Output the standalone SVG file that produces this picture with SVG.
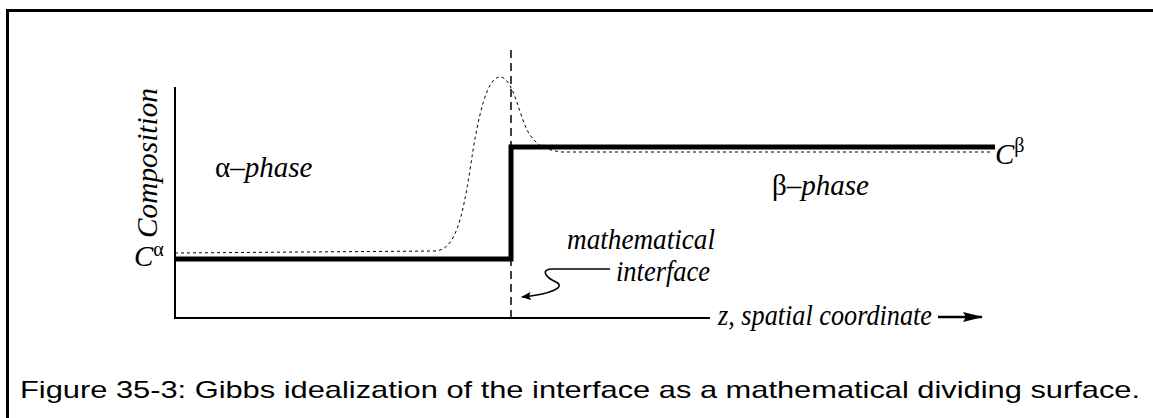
<svg xmlns="http://www.w3.org/2000/svg" width="1153" height="418" viewBox="0 0 1153 418">
<style>
.lbl{font-family:"Liberation Serif","Times New Roman",serif;font-size:29px;fill:#000}
.it{font-style:italic}
.cap{font-family:"Liberation Sans",Arial,sans-serif;font-size:24px;fill:#000}
</style>
<defs>
<marker id="ah" markerWidth="10" markerHeight="8" refX="9" refY="4" orient="auto" markerUnits="userSpaceOnUse" viewBox="0 0 10 8">
<path d="M0,0 L10,4 L0,8 L2,4 Z" fill="#000"/>
</marker>
<marker id="ah2" markerWidth="20" markerHeight="10" refX="19" refY="5" orient="auto" markerUnits="userSpaceOnUse" viewBox="0 0 20 10">
<path d="M0,0 L20,5 L0,10 L3,5 Z" fill="#000"/>
</marker>
</defs>
<rect width="1153" height="418" fill="#fff"/>
<g id="frame">
<path d="M7.5,418 L7.5,10.5 L1153,10.5" fill="none" stroke="#000" stroke-width="3"/>
</g>
<g id="axes">
<path d="M175,87 L175,318 L710,318" fill="none" stroke="#000" stroke-width="2"/>
<line x1="938" y1="317" x2="982" y2="317" stroke="#000" stroke-width="2.5" marker-end="url(#ah2)"/>
</g>
<g id="connectors">
<line x1="511" y1="50" x2="511" y2="318" stroke="#000" stroke-width="1.5" stroke-dasharray="8,5"/>
<path d="M175,253 L435,251 C455,250 462,220 470,170 C478,115 487,77 500,77 C512,77 518,110 527,130 C535,145 545,150 562,152 L993,152" fill="none" stroke="#000" stroke-width="1" stroke-dasharray="3,3"/>
<path d="M175,259 L511,259 L511,147 L995,147" fill="none" stroke="#000" stroke-width="5" stroke-linejoin="miter"/>
<path d="M610,269 L553,269 C540,269 545,277 556,282 C566,287 552,294 522,297" fill="none" stroke="#000" stroke-width="1.5" marker-end="url(#ah)"/>
</g>
<g id="labels">
<text class="lbl it" transform="translate(157,163) rotate(-90)" text-anchor="middle" textLength="150" lengthAdjust="spacingAndGlyphs">Composition</text>
<text class="lbl" x="134" y="266"><tspan class="it">C</tspan><tspan font-size="20" dy="-10">α</tspan></text>
<text class="lbl" x="215" y="177">α–<tspan class="it">phase</tspan></text>
<text class="lbl" x="772" y="195">β–<tspan class="it">phase</tspan></text>
<text class="lbl" x="995" y="164"><tspan class="it">C</tspan><tspan font-size="20" dy="-12">β</tspan></text>
<text class="lbl it" x="567" y="249" textLength="148" lengthAdjust="spacingAndGlyphs">mathematical</text>
<text class="lbl it" x="616" y="281" textLength="94" lengthAdjust="spacingAndGlyphs">interface</text>
<text class="lbl it" x="718" y="325" textLength="214" lengthAdjust="spacingAndGlyphs">z, spatial coordinate</text>
</g>
<g id="caption">
<text class="cap" x="20" y="398" textLength="1120" lengthAdjust="spacingAndGlyphs">Figure 35-3: Gibbs idealization of the interface as a mathematical dividing surface.</text>
</g>
</svg>
